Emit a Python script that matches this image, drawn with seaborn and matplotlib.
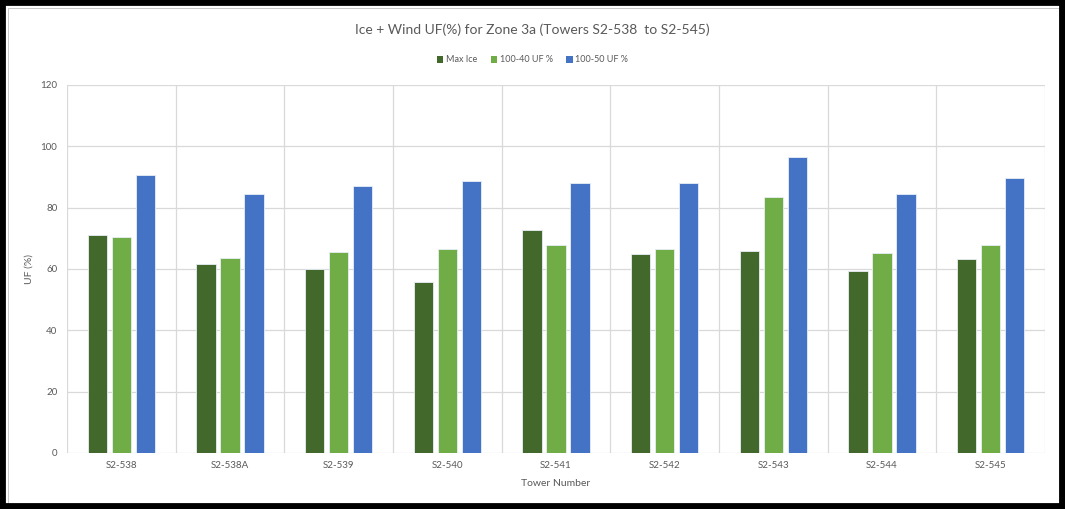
import matplotlib
matplotlib.use("Agg")
import matplotlib.pyplot as plt
from matplotlib.patches import Rectangle, Patch
import seaborn as sns
import pandas as pd

# Tower-by-tower utilisation factors (%)
towers = ["S2-538", "S2-538A", "S2-539", "S2-540", "S2-541",
          "S2-542", "S2-543", "S2-544", "S2-545"]
max_ice = [71.1, 61.5, 60.0, 55.6, 72.6, 64.8, 65.9, 59.2, 63.3]
uf_100_40 = [70.3, 63.7, 65.4, 66.6, 67.7, 66.6, 83.5, 65.1, 67.7]
uf_100_50 = [90.5, 84.3, 87.2, 88.7, 88.0, 88.0, 96.4, 84.6, 89.8]
series_names = ["Max Ice", "100-40 UF %", "100-50 UF %"]
colors = ["#43682B", "#70AD47", "#4472C4"]

df = pd.DataFrame({
    "Tower": towers * 3,
    "UF": max_ice + uf_100_40 + uf_100_50,
    "Series": [s for s in series_names for _ in towers],
})

sns.set_theme(style="white")
plt.rcParams["font.family"] = ["Lato", "DejaVu Sans"]
text_grey = "#595959"
grid_grey = "#D9D9D9"

fig = plt.figure(figsize=(10.65, 5.09), dpi=100)
ax = fig.add_axes([67 / 1065, 1 - 453 / 509, (1045 - 67) / 1065, (453 - 85) / 509])

sns.barplot(data=df, x="Tower", y="UF", hue="Series", order=towers,
            hue_order=series_names, palette=colors, saturation=1,
            width=0.665, gap=0.2, edgecolor="#E8EEF6", linewidth=0.6,
            errorbar=None, ax=ax, legend=False, zorder=3)

ax.set_xlim(-0.5, len(towers) - 0.5)
ax.set_ylim(0, 120)
ax.set_yticks(range(0, 121, 20))
ax.set_xticks([i - 0.5 for i in range(len(towers) + 1)], minor=True)
ax.grid(axis="y", which="major", color=grid_grey, linewidth=0.9, zorder=0)
ax.grid(axis="x", which="minor", color=grid_grey, linewidth=0.9, zorder=0)
ax.grid(axis="x", which="major", visible=False)
for s in ax.spines.values():
    s.set_visible(False)
ax.tick_params(axis="both", which="both", length=0, colors=text_grey, labelsize=7)
ax.tick_params(axis="x", pad=6)
ax.tick_params(axis="y", pad=7)

ax.set_xlabel("Tower Number", fontsize=7.5, color=text_grey, labelpad=6)
ax.set_ylabel("UF (%)", fontsize=7.5, color=text_grey, labelpad=5)

fig.text(0.5, 1 - 30 / 509, "Ice + Wind UF(%) for Zone 3a (Towers S2-538  to S2-545)",
         ha="center", va="center", fontsize=10, color=text_grey)

handles = [Patch(facecolor=c, edgecolor="none") for c in colors]
fig.legend(handles, series_names, loc="center", bbox_to_anchor=(0.5, 1 - 60 / 509),
           ncol=3, frameon=False, fontsize=6.5, labelcolor=text_grey,
           handlelength=0.7, handleheight=0.7, handletextpad=0.3, columnspacing=1.5)

# Thin inner chart border and thick outer frame
fig.add_artist(Rectangle((8 / 1065, 5 / 509), 1 - 14 / 1065, 1 - 13 / 509,
                         transform=fig.transFigure, fill=False,
                         edgecolor="#BFBFBF", linewidth=0.6))
fig.add_artist(Rectangle((0, 0), 1, 1, transform=fig.transFigure, fill=False,
                         edgecolor="black", linewidth=8.5))

fig.savefig("out.png", dpi=100, facecolor="white")
